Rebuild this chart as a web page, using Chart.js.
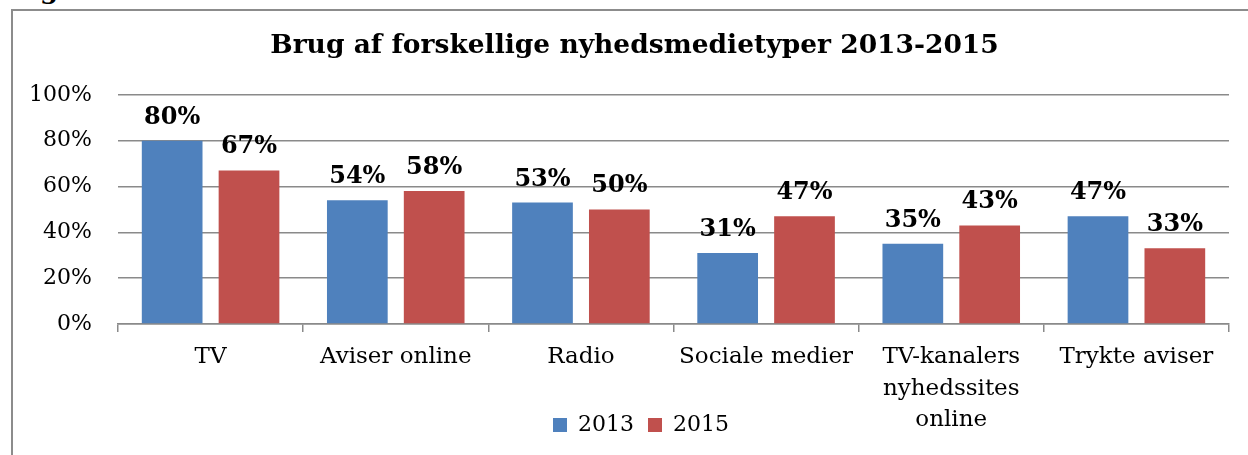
<!DOCTYPE html>
<html>
<head>
<meta charset="utf-8">
<script src="https://cdn.jsdelivr.net/npm/chart.js@4/dist/chart.umd.min.js"></script>
<style>
  html, body { margin: 0; padding: 0; background: #fff; overflow: hidden; }
  #frame {
    position: absolute; left: 11px; top: 9px; width: 1300px; height: 500px;
    border-left: 2px solid #8c8c8c; border-top: 2px solid #8c8c8c;
  }
  #wrap { position: absolute; left: 0; top: 0; width: 1248px; height: 455px; }
  #above {
    position: absolute; left: 40px; top: -23px; margin: 0;
    font: bold 26px/26px 'DejaVu Serif', serif; color: #000;
  }
</style>
</head>
<body>
<p id="above">g</p>
<div id="frame"></div>
<div id="wrap"><canvas id="mediaChart"></canvas></div>
<script>
// values (percent)
const categories = ['TV', 'Aviser online', 'Radio', 'Sociale medier',
  ['TV-kanalers', 'nyhedssites', 'online'], 'Trykte aviser'];
const values2013 = [80, 54, 53, 31, 35, 47];
const values2015 = [67, 58, 50, 47, 43, 33];
const yTicks = [0, 20, 40, 60, 80, 100];

const serif = "'DejaVu Serif', serif";

// draws the bold percent above each bar
const barLabels = {
  id: 'barLabels',
  afterDatasetsDraw(chart) {
    const c = chart.ctx;
    c.save();
    c.font = "bold 24px " + serif;
    c.fillStyle = '#000';
    c.textAlign = 'center';
    c.textBaseline = 'alphabetic';
    chart.data.datasets.forEach((ds, i) => {
      chart.getDatasetMeta(i).data.forEach((bar, j) => {
        c.fillText(ds.data[j] + '%', bar.x, bar.y - 17);
      });
    });
    c.restore();
  }
};

// legend sits next to the 3-line label, title and legend a bit right of centre
const nudge = {
  id: 'nudge',
  afterLayout(chart) {
    chart.scales.x.bottom = chart.height;
    chart.legend.left += 53;
    chart.legend.top -= 2;
    chart.legend.bottom -= 2;
    chart.titleBlock.left += 40;
  }
};

const ctx = document.getElementById('mediaChart').getContext('2d');

const mediaChart = new Chart(ctx, {
  type: 'bar',
  data: {
    labels: categories,
    datasets: [
      { label: '2013', data: values2013, backgroundColor: '#4F81BD' },
      { label: '2015', data: values2015, backgroundColor: '#C0504D' }
    ]
  },
  options: {
    responsive: true,
    maintainAspectRatio: false,
    animation: false,
    categoryPercentage: 0.83,
    barPercentage: 0.79,
    layout: { padding: { left: 0, right: 19, top: 0, bottom: 7 } },
    scales: {
      x: {
        grid: { drawOnChartArea: false, offset: true, tickLength: 8, color: '#8a8a8a', lineWidth: 1.5 },
        border: { color: '#8a8a8a', width: 1.5 },
        ticks: { color: '#000', padding: 10, maxRotation: 0, autoSkip: false,
          font: { family: serif, size: 23, lineHeight: 1.35 } },
        afterFit(scale) { scale.height = 78; }
      },
      y: {
        min: 0, max: 100,
        afterBuildTicks(scale) { scale.ticks = yTicks.map(v => ({ value: v })); },
        grid: { drawTicks: false, color: '#8a8a8a', lineWidth: 1.5 },
        border: { display: false },
        ticks: { color: '#000', padding: 26, callback: v => v + '%',
          font: { family: serif, size: 22 } },
        afterFit(scale) { scale.width = 118; }
      }
    },
    plugins: {
      title: {
        display: true,
        text: 'Brug af forskellige nyhedsmedietyper 2013-2015',
        color: '#000',
        font: { family: serif, size: 26.5, weight: 'bold' },
        padding: { top: 30, bottom: 33 }
      },
      legend: {
        position: 'bottom',
        labels: { color: '#000', boxWidth: 14, boxHeight: 14, padding: 14,
          font: { family: serif, size: 22 } }
      },
      tooltip: { enabled: false }
    }
  },
  plugins: [barLabels, nudge]
});
</script>
</body>
</html>
